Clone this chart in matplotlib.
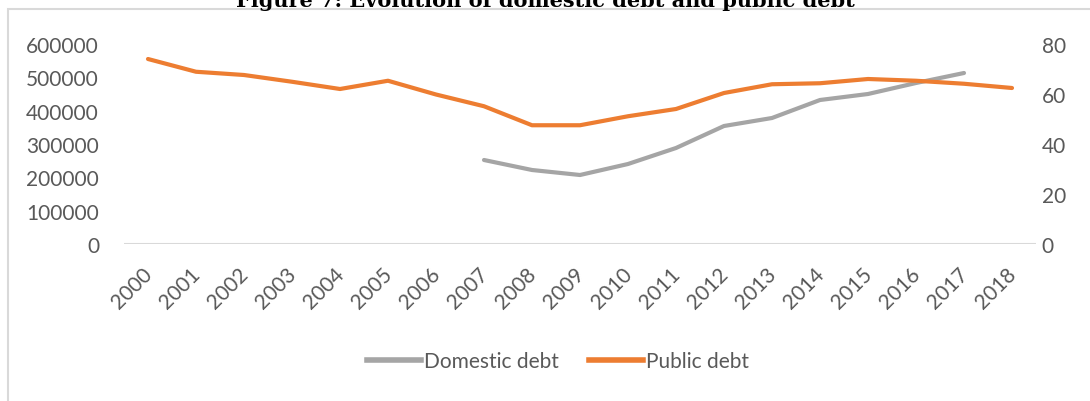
import numpy as np
import matplotlib.pyplot as plt
import matplotlib.transforms as mtransforms
from matplotlib.patches import Rectangle
from matplotlib.lines import Line2D

years = [str(y) for y in range(2000, 2019)]

# domestic debt (left axis), series starts in 2007
domestic_debt = [None] * 7 + [252000, 222000, 207000, 240000, 288000, 354000,
                              378000, 432000, 450000, 483000, 513000, None]

# public debt, % (right axis)
public_debt = [74.0, 68.9, 67.6, 64.9, 62.0, 65.3, 59.8, 55.1, 47.5, 47.5,
               51.1, 54.0, 60.4, 63.9, 64.3, 66.0, 65.3, 64.1, 62.4]

GREY = '#A5A5A5'
ORANGE = '#ED7D31'
TXT = '#595959'

plt.rcParams['font.family'] = ['Lato', 'DejaVu Sans']

W, H = 1090, 402
fig = plt.figure(figsize=(W / 100, H / 100), dpi=100)

# chart frame
fig.patches.append(Rectangle((8 / W, -0.1), 1.2, 1 - 10 / H + 0.1,
                             transform=fig.transFigure, fill=False,
                             edgecolor='#D9D9D9', linewidth=1.5))

fig.text(545 / W, 1 - 7 / H,
         'Figure 7: Evolution of domestic debt and public debt',
         ha='center', va='baseline', fontsize=15, fontweight='bold',
         family='DejaVu Serif', color='black')

ax = fig.add_axes([124 / W, 1 - 245 / H, (1036 - 124) / W, 200 / H])
x = np.arange(len(years))

dd = np.array([np.nan if v is None else v for v in domestic_debt], dtype=float)
ax.plot(x, dd, color=GREY, linewidth=3, solid_capstyle='round')
ax.set_ylim(0, 600000)
ax.set_yticks(range(0, 600001, 100000))
ax.set_xlim(-0.5, len(years) - 0.5)
ax.set_xticks(x)
ax.set_xticklabels(years, rotation=45, ha='right', rotation_mode='anchor')

ax2 = ax.twinx()
ax2.plot(x, public_debt, color=ORANGE, linewidth=3, solid_capstyle='round')
ax2.set_ylim(0, 80)
ax2.set_yticks(range(0, 81, 20))

for a in (ax, ax2):
    for s in a.spines.values():
        s.set_visible(False)
    a.tick_params(length=0, colors=TXT, labelsize=15)
ax.tick_params(axis='x', pad=14)
ax.tick_params(axis='y', pad=18)
ax2.tick_params(axis='y', pad=4)
ax.axhline(0, color='#D9D9D9', linewidth=1.5)

# nudge the rotated year labels a little to the left
shift = mtransforms.ScaledTranslation(-6 / 100, 0, fig.dpi_scale_trans)
for lbl in ax.get_xticklabels():
    lbl.set_transform(lbl.get_transform() + shift)

handles = [Line2D([], [], color=GREY, linewidth=4),
           Line2D([], [], color=ORANGE, linewidth=4)]
fig.legend(handles, ['Domestic debt', 'Public debt'], loc='center',
           bbox_to_anchor=(558 / W, 1 - 362 / H), ncol=2, frameon=False,
           fontsize=15, labelcolor=TXT, handlelength=2.6, handletextpad=0.15,
           columnspacing=1.4)

fig.savefig('out.png', dpi=100)
